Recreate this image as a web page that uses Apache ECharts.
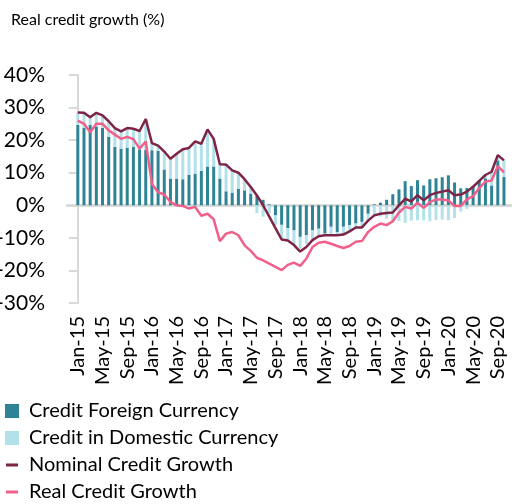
<!DOCTYPE html>
<html>
<head>
<meta charset="utf-8">
<script src="https://cdn.jsdelivr.net/npm/echarts@6.0.0/dist/echarts.min.js"></script>
<style>
  html, body { margin: 0; padding: 0; background: #fff; }
  #chart { width: 512px; height: 504px; }
</style>
</head>
<body>
<div id="chart"></div>
<script>
// months Jan-15 .. Oct-20
const monthNames = ['Jan', 'Feb', 'Mar', 'Apr', 'May', 'Jun', 'Jul', 'Aug', 'Sep', 'Oct', 'Nov', 'Dec'];
const years = ['15', '16', '17', '18', '19', '20'];
const months = [];
years.forEach(y => monthNames.forEach(m => months.push(m + '-' + y)));
months.length = 70;

// every 4th month gets a label
const tickIndex = [0, 4, 8, 12, 16, 20, 24, 28, 32, 36, 40, 44, 48, 52, 56, 60, 64, 68];

const foreign = [
  24.7, 23.8, 24.7, 24.2, 23.8, 21.0, 17.9, 17.4, 17.6, 18.0,
  17.2, 17.0, 16.9, 16.7, 11.0, 8.2, 8.2, 8.0, 9.4, 9.7,
  10.6, 11.9, 11.9, 8.2, 4.3, 3.9, 5.1, 4.6, 3.6, 3.0,
  1.7, 0.3, -3.1, -6.0, -7.0, -7.7, -9.7, -9.2, -7.7, -7.2,
  -8.7, -6.6, -8.2, -6.6, -6.1, -5.6, -5.1, -2.6, 0.3, 0.8,
  1.7, 3.4, 4.9, 7.4, 5.9, 7.7, 6.1, 8.0, 8.3, 8.6,
  9.2, 7.0, 5.2, 5.3, 5.9, 7.5, 8.3, 6.1, 13.8, 8.7
];
const domestic = [
  3.8, 4.6, 2.3, 4.2, 3.8, 4.8, 5.8, 5.3, 6.1, 5.5,
  5.6, 9.5, 2.2, 1.6, 5.5, 6.1, 7.6, 9.2, 8.2, 9.9,
  8.3, 11.4, 8.5, 4.4, 8.2, 6.8, 4.9, 3.4, 2.0, -2.4,
  -3.5, -2.5, -3.0, -4.5, -4.0, -4.5, -3.6, -2.8, -2.8, -2.3,
  -0.5, -2.6, -1.0, -2.4, -1.9, -1.2, -1.7, -2.1, -3.4, -3.4,
  -4.1, -5.4, -4.8, -5.4, -4.7, -4.6, -4.6, -4.9, -4.5, -4.4,
  -4.6, -3.9, -1.9, -1.1, -0.2, 0.2, 1.0, 4.2, 1.6, 5.1
];
const nominal = [
  28.5, 28.4, 27.0, 28.4, 27.6, 25.8, 23.7, 22.7, 23.7, 23.5,
  22.8, 26.5, 19.1, 18.3, 16.5, 14.3, 15.8, 17.2, 17.6, 19.6,
  18.9, 23.3, 20.4, 12.6, 12.5, 10.7, 10.0, 8.0, 5.6, 3.0,
  0.0, -3.5, -7.0, -10.5, -10.8, -12.2, -14.2, -12.8, -10.7, -9.5,
  -9.2, -9.2, -9.2, -9.0, -8.0, -6.8, -6.8, -4.7, -3.1, -2.6,
  -2.4, -2.2, 0.0, 2.0, 1.2, 3.1, 1.5, 3.1, 3.8, 4.2,
  4.6, 3.1, 3.3, 4.2, 5.7, 7.5, 9.3, 10.3, 15.4, 13.8
];
const real = [
  26.0, 25.0, 22.4, 25.0, 25.0, 23.0, 21.7, 20.4, 21.0, 20.3,
  17.4, 19.6, 6.5, 4.0, 3.3, 1.0, 0.0, -0.2, -1.0, -0.5,
  -3.2, -2.6, -4.3, -11.0, -8.7, -8.2, -9.2, -12.3, -14.0, -16.1,
  -16.9, -17.9, -18.9, -19.9, -18.3, -17.6, -18.6, -16.4, -12.8, -11.5,
  -11.2, -11.8, -12.5, -13.1, -12.5, -11.2, -11.0, -8.2, -6.6, -5.6,
  -6.1, -4.9, -2.2, -0.5, -1.0, 0.8, -0.8, 1.0, 1.8, 1.8,
  1.5, -0.2, -0.2, 1.8, 2.8, 5.3, 7.3, 7.6, 12.0, 10.1
];

const font = 'Lato';
// [value, monthIndex] so that stacking happens on the value dimension
const pairs = arr => arr.map((v, i) => [v, i]);
const enc = { x: 1, y: 0 };
const squareIcon = 'path://M5,0h14v14h-14z M0,0h0.01v0.01h-0.01z M23.99,13.99h0.01v0.01h-0.01z';
const lineIcon = 'path://M6,5.5h12v3h-12z M0,0h0.01v0.01h-0.01z M23.99,13.99h0.01v0.01h-0.01z';

const chart = echarts.init(document.getElementById('chart'));
chart.setOption({
  animation: false,
  textStyle: { fontFamily: font },
  title: {
    text: 'Real credit growth (%)',
    left: 6, top: 7,
    textStyle: { fontFamily: font, fontSize: 16, fontWeight: 'normal', color: '#000' }
  },
  grid: { left: 67, right: 0, top: 75, bottom: 201, containLabel: false, outerBoundsMode: 'none' },
  legend: {
    orient: 'vertical', left: 0, top: 401, padding: 0,
    itemWidth: 24, itemHeight: 14, itemGap: 7,
    textStyle: { fontFamily: font, fontSize: 20, color: '#000' },
    data: [
      { name: 'Credit Foreign Currency', icon: squareIcon },
      { name: 'Credit in Domestic Currency', icon: squareIcon },
      { name: 'Nominal Credit Growth', icon: lineIcon },
      { name: 'Real Credit Growth', icon: lineIcon }
    ]
  },
  xAxis: [
    {
      type: 'value', min: -1.75, max: 70.3,
      axisLine: { onZero: true, lineStyle: { color: '#d4d4d4', width: 2.5 } },
      axisTick: { show: false }, axisLabel: { show: false }, splitLine: { show: false }
    },
    {
      type: 'value', min: -1.75, max: 70.3, position: 'bottom',
      axisLine: { show: false }, axisTick: { show: false }, splitLine: { show: false },
      axisLabel: {
        customValues: tickIndex, rotate: 90, margin: 13,
        fontFamily: font, fontSize: 20, color: '#000',
        formatter: v => months[v]
      }
    }
  ],
  yAxis: {
    type: 'value', min: -30, max: 40, interval: 10,
    axisLine: { show: true, lineStyle: { color: '#d9d9d9', width: 2 } },
    axisTick: { show: true, inside: false, length: 9, lineStyle: { color: '#d9d9d9', width: 2 } },
    splitLine: { show: false },
    axisLabel: { formatter: '{value}%', fontFamily: font, fontSize: 21, margin: 22, color: '#000' }
  },
  series: [
    {
      name: 'Credit Foreign Currency', type: 'bar', stack: 'credit', barWidth: 3,
      encode: enc, itemStyle: { color: '#2e8494' }, data: pairs(foreign)
    },
    {
      name: 'Credit in Domestic Currency', type: 'bar', stack: 'credit', barWidth: 3,
      encode: enc, itemStyle: { color: '#b2e1ea' }, data: pairs(domestic)
    },
    {
      name: 'Nominal Credit Growth', type: 'line', symbol: 'none', encode: enc,
      lineStyle: { color: '#7e2446', width: 2.5 }, itemStyle: { color: '#7e2446' },
      data: pairs(nominal)
    },
    {
      name: 'Real Credit Growth', type: 'line', symbol: 'none', encode: enc,
      lineStyle: { color: '#f0608a', width: 2.5 }, itemStyle: { color: '#f0608a' },
      data: pairs(real)
    }
  ]
});
</script>
</body>
</html>
